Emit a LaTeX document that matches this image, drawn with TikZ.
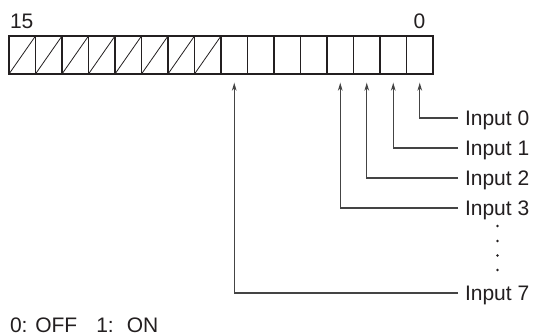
\documentclass[tikz,border=0pt]{standalone}
\usepackage{fontspec}
\setmainfont{Liberation Sans}
\usetikzlibrary{arrows.meta}
\definecolor{ink}{HTML}{231F20}
\definecolor{wire}{HTML}{444444}
\begin{document}
\begin{tikzpicture}[x=1pt,y=-1pt,
  cell/.style={draw=ink,line width=1.1pt,minimum width=26.5pt,minimum height=38pt,inner sep=0pt,outer sep=0pt},
  hatch/.style={draw=ink,line width=0.8pt},
  lbl/.style={font=\fontsize{21}{25}\selectfont,text=ink,inner sep=0pt,outer sep=0pt},
  inlbl/.style={lbl,anchor=west,text height=15pt,text depth=0pt},
  conn/.style={draw=wire,line width=1.1pt,-{Stealth[length=8pt,width=4.6pt,inset=2.2pt]}}]
\useasboundingbox[fill=white] (0,0) rectangle (533,336);
% register cells
\foreach \i in {0,...,15}{
  \node[cell] (b\i) at ({433-(\i+0.5)*26.5},55) {};
}
\foreach \i in {8,...,15}{
  \draw[hatch] (b\i.south west) -- (b\i.north east);
}
% bit labels
\node[lbl,anchor=base west] (t15) at (10,28.5) {15};
\node[lbl,anchor=base] (t0) at (419.5,28.5) {0};
% input labels
\node[inlbl] (in0) at (465,118) {Input 0};
\node[inlbl] (in1) at (465,148) {Input 1};
\node[inlbl] (in2) at (465,178) {Input 2};
\node[inlbl] (in3) at (465,208) {Input 3};
\node[inlbl] (in7) at (465,293) {Input 7};
% connectors
\draw[conn] ([xshift=-7pt]in0.west) -| ([yshift=-8.7pt]b0.south);
\draw[conn] ([xshift=-7pt]in1.west) -| ([yshift=-8.7pt]b1.south);
\draw[conn] ([xshift=-7pt]in2.west) -| ([yshift=-8.7pt]b2.south);
\draw[conn] ([xshift=-7pt]in3.west) -| ([yshift=-8.7pt]b3.south);
\draw[conn] ([xshift=-7pt]in7.west) -| ([yshift=-8.7pt]b7.south);
% vertical ellipsis
\foreach \y in {226,241,255.5,270}{
  \fill[ink] (497.5,\y) circle (1.4pt);
}
% legend
\node[lbl,anchor=base west] (legend) at (10,333) {0: OFF\hspace{19pt}1:\hspace{13pt}ON};
\end{tikzpicture}
\end{document}
